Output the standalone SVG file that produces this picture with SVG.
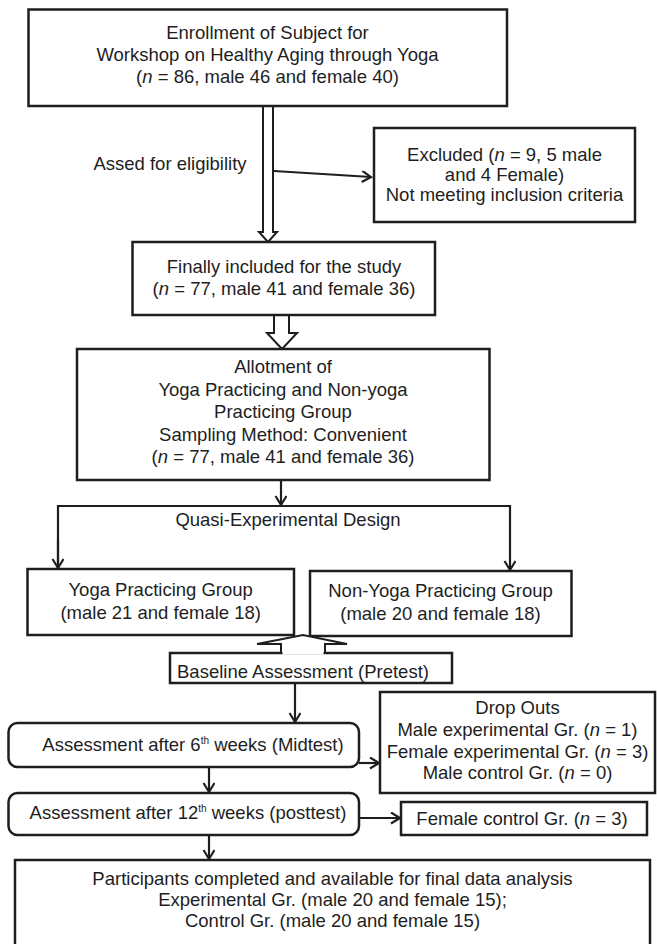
<svg xmlns="http://www.w3.org/2000/svg" width="657" height="944" viewBox="0 0 657 944">
<defs>
<style>
.box{fill:#fff;stroke:#1e1e1e;stroke-width:2.5}
.ln{fill:none;stroke:#1e1e1e;stroke-width:2.2}
.hol{fill:#fff;stroke:#1e1e1e;stroke-width:2;stroke-linejoin:miter}
text{font-family:"Liberation Sans",Arial,sans-serif;font-size:18.5px;fill:#1e1e1e;text-anchor:middle}
.it{font-style:italic}
.sup{font-size:10px}
</style>
<marker id="ah" markerUnits="userSpaceOnUse" markerWidth="14" markerHeight="14" refX="10" refY="6" orient="auto">
<path d="M1,0.5 L10,6 L1,11.5" fill="none" stroke="#1e1e1e" stroke-width="2.2"/>
</marker>
</defs>
<rect width="657" height="944" fill="#fff"/>

<g id="connectors">
<polygon class="hol" points="263,106 273,106 273,232 277,232 268,242 259,232 263,232"/>
<line class="ln" x1="274" y1="171" x2="371" y2="177" marker-end="url(#ah)"/>
<polygon class="hol" points="274,315 289,315 289,333 297,333 282,349 267,333 274,333"/>
<line class="ln" x1="281" y1="480" x2="281" y2="505" marker-end="url(#ah)"/>
<polyline class="ln" points="58,568 58,506 510,506 510,570" marker-end="url(#ah)"/>
<line class="ln" x1="58" y1="540" x2="58" y2="568" marker-end="url(#ah)"/>
<line class="ln" x1="295" y1="683" x2="295" y2="722" marker-end="url(#ah)"/>
<line class="ln" x1="359" y1="763" x2="379" y2="763" marker-end="url(#ah)"/>
<line class="ln" x1="209" y1="767" x2="209" y2="792" marker-end="url(#ah)"/>
<line class="ln" x1="359" y1="818" x2="400" y2="818" marker-end="url(#ah)"/>
<line class="ln" x1="209" y1="835" x2="209" y2="859" marker-end="url(#ah)"/>
</g>

<g id="enrollment">
<rect class="box" x="28.5" y="9.5" width="478.5" height="96.5"/>
<text x="267.5" y="39">Enrollment of Subject for</text>
<text x="267.5" y="61">Workshop on Healthy Aging through Yoga</text>
<text x="267.5" y="83">(<tspan class="it">n</tspan> = 86, male 46 and female 40)</text>
</g>

<g id="assessed-label">
<text x="170" y="170">Assed for eligibility</text>
</g>

<g id="excluded">
<rect class="box" x="374" y="128" width="261" height="94"/>
<text x="504.5" y="161">Excluded (<tspan class="it">n</tspan> = 9, 5 male</text>
<text x="504.5" y="181">and 4 Female)</text>
<text x="504.5" y="201">Not meeting inclusion criteria</text>
</g>

<g id="included">
<rect class="box" x="132.5" y="242" width="302.5" height="73"/>
<text x="284" y="273">Finally included for the study</text>
<text x="284" y="295">(<tspan class="it">n</tspan> = 77, male 41 and female 36)</text>
</g>

<g id="allotment">
<rect class="box" x="77" y="349" width="412.5" height="131"/>
<text x="283" y="373">Allotment of</text>
<text x="283" y="395.5">Yoga Practicing and Non-yoga</text>
<text x="283" y="418">Practicing Group</text>
<text x="283" y="440.5">Sampling Method: Convenient</text>
<text x="283" y="463">(<tspan class="it">n</tspan> = 77, male 41 and female 36)</text>
</g>

<g id="design-label">
<text x="288" y="526">Quasi-Experimental Design</text>
</g>

<g id="yoga">
<rect class="box" x="27.5" y="569" width="266.5" height="66"/>
<text x="160.7" y="596">Yoga Practicing Group</text>
<text x="160.7" y="619">(male 21 and female 18)</text>
</g>

<g id="nonyoga">
<rect class="box" x="310" y="571" width="261.5" height="65"/>
<text x="440.5" y="597">Non-Yoga Practicing Group</text>
<text x="440.5" y="620">(male 20 and female 18)</text>
</g>

<g id="baseline">
<rect class="box" x="170" y="653" width="282" height="30"/>
<polygon class="hol" points="281,653 281,644 257,644 303,635 347,644 325,644 325,653"/>
<line x1="282.5" y1="653" x2="323.5" y2="653" stroke="#fff" stroke-width="3"/>
<text x="303" y="678">Baseline Assessment (Pretest)</text>
</g>

<g id="midtest">
<rect class="box" x="8.5" y="723" width="350.5" height="44" rx="9"/>
<text x="193" y="751">Assessment after 6<tspan class="sup" dy="-7">th</tspan><tspan dy="7"> weeks (Midtest)</tspan></text>
</g>

<g id="dropouts">
<rect class="box" x="380" y="692" width="275" height="101"/>
<text x="517.5" y="714">Drop Outs</text>
<text x="517.5" y="736">Male experimental Gr. (<tspan class="it">n</tspan> = 1)</text>
<text x="517.5" y="758">Female experimental Gr. (<tspan class="it">n</tspan> = 3)</text>
<text x="517.5" y="779">Male control Gr. (<tspan class="it">n</tspan> = 0)</text>
</g>

<g id="posttest">
<rect class="box" x="8.5" y="793" width="350.5" height="42" rx="9"/>
<text x="188" y="819">Assessment after 12<tspan class="sup" dy="-7">th</tspan><tspan dy="7"> weeks (posttest)</tspan></text>
</g>

<g id="female-control">
<rect class="box" x="401" y="802" width="246" height="33"/>
<text x="522" y="825">Female control Gr. (<tspan class="it">n</tspan> = 3)</text>
</g>

<g id="final">
<rect class="box" x="15" y="860" width="635" height="100"/>
<text x="332.5" y="885">Participants completed and available for final data analysis</text>
<text x="332.5" y="906">Experimental Gr. (male 20 and female 15);</text>
<text x="332.5" y="927">Control Gr. (male 20 and female 15)</text>
</g>
</svg>
